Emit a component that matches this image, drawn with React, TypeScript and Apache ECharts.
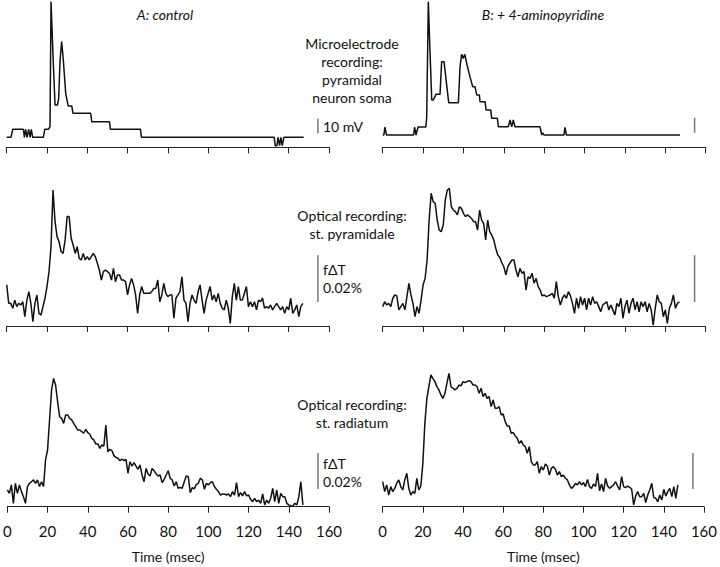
import React, { useEffect, useRef } from "react";
import * as echarts from "echarts";

// Sampling grid of the optical traces (ms)
const SAMPLE_MS: number[] = Array.from({ length: 148 }, (_, i) => i);

// Microelectrode recordings [ms, mV relative to rest]
const microA: [number, number][] = [
  [0, 0], [2.1, 0], [3.0, 5.3], [8.3, 5.3], [8.8, 0], [9.4, 5.3], [10.1, 0], [10.9, 5.3], [11.6, 0],
  [12.2, 5.3], [12.9, 0], [18.2, 0], [18.9, 5.3], [20.7, 5.3], [21.5, 7.1], [22.0, 90.4], [23.2, 47.1],
  [24.0, 21.5], [25.2, 21.5], [25.8, 26.0], [26.5, 51.5], [27.3, 63.8], [28.1, 51.5], [29.3, 29.3],
  [30.5, 20.9], [32.3, 20.9], [32.9, 16.0], [41.7, 16.0], [42.2, 10.4], [51.0, 10.4], [51.5, 5.3],
  [66.4, 5.3], [66.9, 0], [132.8, 0], [133.3, -5.6], [134.2, -5.6], [134.7, 0], [135.5, -5.6],
  [136.1, 0], [136.8, -5.6], [137.6, 0], [147.4, 0],
];
const microB: [number, number][] = [
  [0, 0], [0.6, 0], [1.1, 5.3], [1.9, 0], [15.3, 0], [15.8, 5.3], [16.5, 0], [17.5, 5.3], [21.4, 5.3],
  [21.8, 12.2], [22.6, 88.9], [23.4, 56.7], [24.3, 23.3], [25.1, 23.3], [26.4, 27.1], [28.4, 27.1],
  [29.2, 48.9], [30.4, 48.9], [31.4, 36.7], [32.7, 21.5], [37.5, 21.5], [38.3, 45.5], [39.1, 53.8],
  [39.9, 51.1], [40.7, 53.8], [41.6, 47.8], [43.2, 38.9], [44.6, 32.2], [45.7, 32.2], [46.6, 26.7],
  [47.9, 26.7], [48.2, 22.2], [50.7, 22.2], [51.2, 16.7], [53.5, 16.7], [54.0, 11.1], [56.8, 11.1],
  [57.3, 5.5], [62.2, 5.5], [63.1, 10], [63.9, 5.5], [64.7, 10], [65.5, 5.5], [77.9, 5.5], [78.8, 0],
  [79.3, 1.5], [79.9, 0], [89.8, 0], [90.3, 5.1], [91.0, 0], [147.3, 0],
];

// Optical recordings, fΔT in units of 0.001 %, one value per ms
const pyrA: number[] = [
  8.6, 0.7, 0.7, -1.4, 2.1, -0.7, 0.7, 0, 1.4, -5, 2.1, 5.7, 0.7, -7.1, 0.7, 4.3, -3.6, -4.3, -0.7, 2.9,
  7.9, 14.3, 25, 49.3, 35.7, 29.3, 27.1, 22.9, 22.1, 27.9, 37.9, 37.9, 28.6, 25.7, 22.1, 25, 20, 19.3, 22.1, 19.3,
  20.7, 19.3, 20.7, 22.1, 20.7, 17.9, 15, 10.7, 14.3, 15, 14.3, 13.6, 10.7, 15.7, 10, 12.9, 12.9, 10.7, 10.7, 10,
  4.3, 8.6, 11.4, 8.6, 4.3, -3.6, 4.3, 7.9, 5, 5, 5, 5, 5.7, 7.1, 7.1, 10.7, 1.4, 4.3, 9.3, 5,
  3.6, 4.3, 4.3, -5.7, 2.9, 4.3, 5.7, 12.1, 2.1, 0.7, -7.1, 0.7, 4.3, 2.1, 0.7, 5.7, 8.6, 2.1, -3.6, 2.1,
  5, 7.9, 2.1, 4.3, 1.4, 5, 0.7, -1.4, -2.1, 2.1, -1.4, -7.9, 3.6, 9.3, 2.1, 7.9, 2.1, 2.1, 5, 7.9,
  -0.7, 1.4, -0.7, 1.4, -2.1, 2.1, 1.4, 2.9, -1.4, -0.7, -1.4, 0, -2.1, -0.7, 0.7, -0.7, -2.1, -0.7, -3.6, -0.7,
  -2.1, 2.9, -3.6, -2.1, 0, -5, -0.7, 0.7,
];
const pyrB: number[] = [
  -0.7, 1.4, 0, 0.7, -0.7, 2.9, 4.3, 3.9, -2.1, -0.7, 0.7, -2.1, 3.6, 9.3, 4.3, 0.7, -5, -0.7, -3.6, 2.1,
  8.6, 11.4, 19.3, 36.4, 47.9, 44.3, 43.6, 36.4, 32.1, 31.4, 34.3, 45, 49.3, 50, 42.1, 40.7, 40, 38.6, 42.1, 41.4,
  39.3, 37.9, 38.6, 37.9, 37.1, 35.7, 35.7, 32.1, 40.7, 36.4, 35, 27.9, 36.4, 31.4, 30, 27.9, 24.3, 21.4, 20.4, 18.1,
  16.4, 12.9, 16.4, 17.9, 19.3, 19.3, 15, 12.1, 15.7, 13.6, 14.3, 6.4, 12.1, 11.4, 13.6, 9.3, 11.4, 7.9, 6.4, 3.9,
  4.3, 3.6, 3.9, 4.3, 5, 2.9, 10, 3.6, 0, 2.9, 4.3, 2.9, 5.7, 3.9, 0.7, -3.6, 2.9, -1.4, 3.6, 0,
  2.9, -2.1, 2.9, 0, 3.6, 0.7, 1.4, -0.7, -2.9, 0, 0.7, 1.4, -2.1, 0, -2.1, -4.3, 0.7, -0.7, 2.9, -5.7,
  -0.7, 2.1, -3.6, 0.7, 2.9, -2.1, 1.4, -2.9, 1.4, -0.7, 1.4, -2.9, 0.7, -2.1, -8.6, -1.4, 4.3, 1.4, 0.7, -5,
  -2.1, -7.9, -1.4, 0.7, 4.3, -1.4, 0.7, 1.4,
];
const radA: number[] = [
  0, -1.9, 2.8, -7.4, 3.7, -1.9, 2.8, -0.9, -3.7, -7.4, 1.9, 3.7, 4.6, 5.6, 3.7, 5.6, 1.9, 4.6, 1.9, 16.7,
  22.2, 38.9, 55.6, 62, 58.3, 49.1, 40.7, 39.8, 37, 41.7, 41.7, 39.8, 38.9, 37, 35.2, 33.3, 33.3, 32.4, 31.5, 33.7,
  31.9, 31.1, 28.7, 27.8, 25.6, 25.6, 23.1, 25, 24.4, 36.1, 21.3, 22.6, 21.9, 19.1, 18.1, 17.6, 16.3, 17.2, 16.3, 17,
  9.3, 15.7, 13.3, 15.2, 13.3, 11.5, 13.9, 8.3, 4.6, 12, 8.9, 7.8, 12, 10.7, 8.9, 7.8, 8.3, 4.1, 5.9, 8.3,
  10.7, 6.5, 5.6, 2.2, 4.6, 0.9, 1.5, 0.9, 4.6, 7.8, 7.4, -1.5, 1.3, 0.6, 3.1, 3.7, 6.5, 5.6, 0.4, 3.7,
  2.8, 4.1, 4.6, 1.9, 0.4, -0.9, -2.8, -2.2, -2.2, -2.8, -2.2, -3.7, -0.9, -2.8, 4.1, -3.7, -1.5, -3.3, -0.9, -3.3,
  -2.8, -5.2, -6.5, -4.6, -6.5, -5.6, -7.4, -2.2, -8.3, -5.6, -7.4, -4.6, 0.9, -6.5, 0, -7.4, -1.9, -3.7, -3.7, -7.4,
  -8.3, -8.9, -8.9, -7.4, -8.3, -3.7, 4.6, -8.3,
];
const radB: number[] = [
  4.6, -0.9, 2.8, -2.8, 1.9, -0.9, 0.9, 3.7, 5.6, 1.9, 0, 5.6, 9.3, 0.9, -2.8, -0.9, -1.9, 6.5, 0, 2.2,
  14.8, 37, 50.9, 57.4, 63.9, 62, 60.2, 57.4, 55.6, 52.8, 50.9, 53.7, 59.3, 64.8, 57.4, 56.5, 55.6, 56.5, 58.3, 57.8,
  60.2, 59.6, 60.2, 60.7, 60.2, 58.3, 58.3, 57.4, 53.7, 56.5, 51.9, 53.7, 50.9, 51.9, 46.3, 50, 45.4, 45.4, 46.3, 41.7,
  42.2, 38, 35.6, 35.6, 31.5, 31.9, 30, 28.7, 25.9, 27.4, 25, 24.1, 20.4, 24.1, 15.7, 13.9, 13.9, 15.7, 9.3, 13,
  11.1, 14.4, 13.3, 8.3, 12, 13, 11.5, 8.3, 10.2, 7.4, 8.3, 6.5, 5.6, 2.8, 0.9, 1.9, 3.7, 2.8, 4.6, 2.8,
  4.1, 1.9, 5.9, 1.9, 0.9, 3.3, 1.9, 9.3, -0.4, 3.3, -0.9, 6.5, 2.2, 0.9, 1.9, 2.8, 4.6, 2.2, 0, 7.4,
  1.9, 1.3, 2.2, 1.5, 0.4, -8.3, -3.3, -0.9, -3.7, -3.7, -1.9, -7, -2.8, 0, 3.7, -4.1, -4.6, -6.5, -2.8, -5.6,
  0.4, -3.3, -0.9, 0.9, -3.7, 1.9, -4.6, 2.8,
];

// Scale bars: [from, to] at time SCALE_X
const SCALE_X = 154.5;
const barMicroA = [2.5, 12.5];
const barMicroB = [1.5, 11.5];
const barPyr = [1.3, 21.3];
const barRad = [0.6, 20.6];

const X_TICKS = [0, 20, 40, 60, 80, 100, 120, 140, 160];

const FONT = "Lato, 'Noto Sans', sans-serif";

export default function App() {
  const ref = useRef<HTMLDivElement>(null);
  useEffect(() => {
    document.body.style.margin = "0";
    const chart = echarts.init(ref.current!, undefined, { renderer: "svg" });
    const L = { left: 6.7, width: 322.3 };
    const R = { left: 382.7, width: 323 };
    const rows = [
      { top: 0, height: 147.3 },
      { top: 160, height: 166 },
      { top: 360, height: 146.7 },
    ];
    const grids: any[] = [];
    rows.forEach((r) => {
      grids.push({ ...L, ...r });
      grids.push({ ...R, ...r });
    });
    const yRanges = [
      [-6.67, 91.5], [-8.2, 90],
      [-9, 62.14], [-9, 62.14],
      [-9.28, 72.2], [-9.28, 72.2],
    ];
    const xAxes = grids.map((_, i) => ({
      gridIndex: i,
      type: "value",
      min: X_TICKS[0],
      max: X_TICKS[X_TICKS.length - 1],
      interval: X_TICKS[1] - X_TICKS[0],
      axisLine: { show: true, onZero: false, lineStyle: { color: "#222", width: 1 } },
      axisTick: { show: true, length: 6, lineStyle: { color: "#222", width: 1 } },
      splitLine: { show: false },
      axisLabel: {
        show: i >= 4,
        color: "#111",
        fontSize: 15,
        fontFamily: FONT,
        margin: 17,
      },
      name: i >= 4 ? "Time (msec)" : "",
      nameLocation: "middle",
      nameGap: 43,
      nameTextStyle: { color: "#111", fontSize: 14, fontFamily: FONT },
    }));
    const yAxes = grids.map((_, i) => ({
      gridIndex: i,
      type: "value",
      min: yRanges[i][0],
      max: yRanges[i][1],
      show: false,
    }));
    const trace = (i: number, data: any[]) => ({
      type: "line",
      xAxisIndex: i,
      yAxisIndex: i,
      data,
      showSymbol: false,
      symbol: "none",
      lineStyle: { color: "#111", width: 1.5 },
      silent: true,
    });
    const bar = (i: number, b: number[]) => ({
      type: "line",
      xAxisIndex: i,
      yAxisIndex: i,
      data: [[SCALE_X, b[0]], [SCALE_X, b[1]]],
      symbol: "none",
      lineStyle: { color: "#777", width: 1.5 },
      silent: true,
    });
    const toPairs = (arr: number[]) => arr.map((v, k) => [SAMPLE_MS[k], v]);
    const series = [
      trace(0, microA), trace(1, microB),
      trace(2, toPairs(pyrA)), trace(3, toPairs(pyrB)),
      trace(4, toPairs(radA)), trace(5, toPairs(radB)),
      bar(0, barMicroA), bar(1, barMicroB),
      bar(2, barPyr), bar(3, barPyr),
      bar(4, barRad), bar(5, barRad),
    ];
    const txt = (text: string, x: number, y: number, align = "center", italic = false) => ({
      type: "text",
      x,
      y,
      style: {
        text,
        fill: "#111",
        font: `${italic ? "italic " : ""}14px ${FONT}`,
        textAlign: align,
        textVerticalAlign: "middle",
      },
    });
    const graphic = [
      txt("A: control", 165, 14, "center", true),
      txt("B: + 4-aminopyridine", 543, 14, "center", true),
      txt("Microelectrode", 352, 43),
      txt("recording:", 352, 61),
      txt("pyramidal", 352, 79),
      txt("neuron soma", 352, 97),
      txt("10 mV", 323, 126, "left"),
      txt("Optical recording:", 352, 215),
      txt("st. pyramidale", 352, 233),
      txt("f\u0394T", 323, 269, "left"),
      txt("0.02%", 323, 287, "left"),
      txt("Optical recording:", 352, 404),
      txt("st. radiatum", 352, 422),
      txt("f\u0394T", 323, 463, "left"),
      txt("0.02%", 323, 481, "left"),
    ];
    chart.setOption({
      animation: false,
      backgroundColor: "#fff",
      grid: grids,
      xAxis: xAxes,
      yAxis: yAxes,
      series,
      graphic,
    });
    return () => chart.dispose();
  }, []);
  return (
    <div
      ref={ref}
      style={{ position: "absolute", left: 0, top: 0, width: 720, height: 567 }}
    />
  );
}
